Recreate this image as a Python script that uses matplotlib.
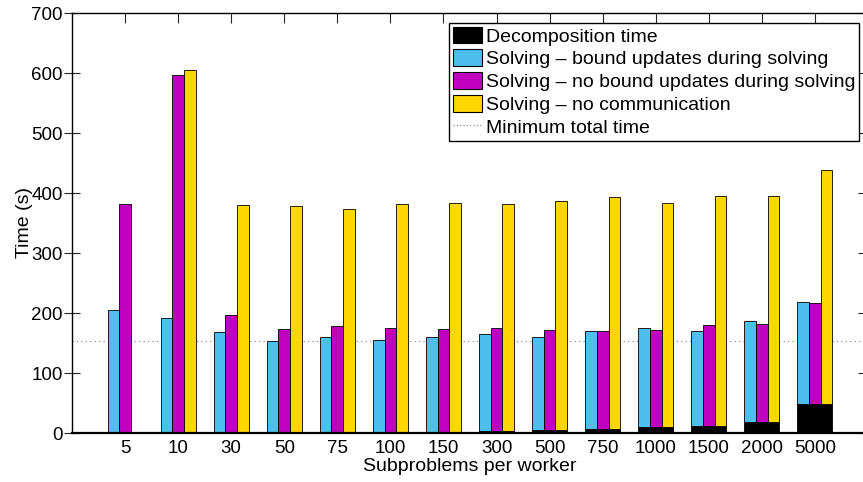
import matplotlib
matplotlib.use("Agg")
import matplotlib.pyplot as plt
from matplotlib.patches import Patch
from matplotlib.lines import Line2D
import numpy as np

plt.rcParams['font.family'] = ['Liberation Sans', 'DejaVu Sans']
plt.rcParams['font.size'] = 14

# data
categories = ["5", "10", "30", "50", "75", "100", "150", "300", "500", "750", "1000", "1500", "2000", "5000"]
# total times (bar tops)
bound_updates = [205, 191, 168.6, 153.6, 160.8, 155.3, 160.3, 164.7, 160.8, 169.2, 174.7, 170.3, 187.5, 219]
no_bound_updates = [381, 597, 197, 174, 178.5, 175.2, 173, 174.7, 171.9, 170.8, 171.9, 180.3, 181.9, 216.3]
no_communication = [0, 604.6, 380, 377.7, 373.8, 381.6, 382.7, 381, 386.6, 393.8, 383.3, 394.4, 395.5, 438.2]
# decomposition time (black, bottom of each bar)
decomposition = [0.2, 0.3, 0.4, 0.5, 0.6, 0.8, 1.5, 2.7, 4.4, 7.2, 9.4, 12.2, 17.7, 48]

labels = ["Decomposition time",
          "Solving \u2013 bound updates during solving",
          "Solving \u2013 no bound updates during solving",
          "Solving \u2013 no communication",
          "Minimum total time"]
col_black = "black"
col_blue = "#4dbeee"
col_magenta = "#bf00bf"
col_yellow = "#ffd700"

fig = plt.figure(figsize=(8.63, 4.82), dpi=100)
ax = fig.add_axes([72/863, 49/482, 796/863, 420/482])
ax.set_axisbelow(True)

x = np.arange(1, len(categories) + 1)
w = 0.22
dec = np.array(decomposition)
series = [(bound_updates, col_blue, -w), (no_bound_updates, col_magenta, 0), (no_communication, col_yellow, w)]
for totals, col, off in series:
    tot = np.array(totals)
    has = tot > 0
    # black decomposition part then the solving part on top
    ax.bar(x[has] + off, dec[has], w, color=col_black, edgecolor="black", linewidth=0.6)
    ax.bar(x[has] + off, tot[has] - dec[has], w, bottom=dec[has], color=col, edgecolor="black", linewidth=0.6)

min_total = min(min(t for t in s if t > 0) for s in [bound_updates, no_bound_updates, no_communication])
ax.axhline(min_total, color="#808080", linestyle=(0, (1, 3)), linewidth=0.8, zorder=0.5)

ax.set_xlim(0, 15)
ax.set_ylim(0, 700)
ax.set_xticks(x)
ax.set_xticklabels(categories)
ax.set_yticks(np.arange(0, 701, 100))
ax.tick_params(axis="x", direction="in", top=True, length=7, width=0.8, colors="#262626",
               labelcolor="black", labelsize=13.5, pad=5)
ax.tick_params(axis="y", direction="inout", right=False, length=12, width=0.8, colors="#262626",
               labelcolor="black", labelsize=13.5, pad=0.5)
# right side ticks point inward only
ax_r = ax.secondary_yaxis("right")
ax_r.set_yticks(np.arange(0, 701, 100))
ax_r.tick_params(direction="in", length=7, width=0.8, colors="#262626", labelright=False)
ax_r.spines["right"].set_linewidth(1.0)
for s in ax.spines.values():
    s.set_linewidth(1.0)
ax.spines['bottom'].set_linewidth(1.6)

ax.set_xlabel("Subproblems per worker", labelpad=1)
ax.set_ylabel("Time (s)")
ax.yaxis.set_label_coords(-38.7/796, 0.5)

handles = [Patch(facecolor=col_black, edgecolor="black", linewidth=0.8),
           Patch(facecolor=col_blue, edgecolor="black", linewidth=0.8),
           Patch(facecolor=col_magenta, edgecolor="black", linewidth=0.8),
           Patch(facecolor=col_yellow, edgecolor="black", linewidth=0.8),
           Line2D([0], [0], color="#808080", linestyle=(0, (1, 2)), linewidth=0.8)]
leg = ax.legend(handles, labels, loc="upper right", bbox_to_anchor=(787/796, 1 - 9.7/420),
                borderaxespad=0, fancybox=False, framealpha=1, edgecolor="black",
                handlelength=1.5, handleheight=0.93, handletextpad=0.2, labelspacing=0.2,
                borderpad=0.2, fontsize=14)
leg.get_frame().set_linewidth(1.0)

fig.savefig("out.png", dpi=100)
